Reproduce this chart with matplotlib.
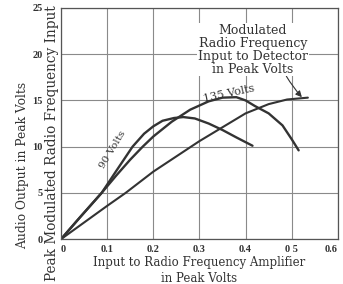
import matplotlib
matplotlib.use("Agg")
import matplotlib.pyplot as plt

# values
x_90 = [0, 0.04, 0.088, 0.12, 0.155, 0.18, 0.2, 0.22, 0.245, 0.265, 0.29, 0.32, 0.35, 0.38, 0.415]
y_90 = [0, 2.3, 5.0, 7.4, 10.0, 11.4, 12.2, 12.8, 13.1, 13.2, 13.05, 12.5, 11.8, 11.0, 10.1]

x_135 = [0, 0.04, 0.088, 0.12, 0.15, 0.177, 0.2, 0.24, 0.28, 0.32, 0.35, 0.38, 0.40, 0.42, 0.45, 0.48, 0.50, 0.515]
y_135 = [0, 2.3, 5.0, 6.9, 8.6, 10.0, 11.1, 12.7, 14.0, 14.9, 15.3, 15.35, 15.0, 14.4, 13.6, 12.3, 10.8, 9.6]

x_det = [0, 0.1, 0.14, 0.2, 0.3, 0.35, 0.4, 0.45, 0.49, 0.535]
y_det = [0, 3.6, 5.0, 7.3, 10.6, 12.1, 13.6, 14.6, 15.1, 15.3]

x_ticks = [0, 0.1, 0.2, 0.3, 0.4, 0.5, 0.6]
x_ticklabels = ["0", "0.1", "0.2", "0.3", "0.4", "0 5", "0.6"]
y_ticks = [0, 5, 10, 15, 20, 25]

ink = "#333333"
plt.rcParams["font.family"] = ["DejaVu Serif"]

fig = plt.figure(figsize=(3.43, 2.84), dpi=100)
ax = fig.add_axes([0.178, 0.158, 0.807, 0.814])

ax.plot(x_90, y_90, color=ink, lw=1.7, solid_capstyle="round")
ax.plot(x_135, y_135, color=ink, lw=1.7, solid_capstyle="round")
ax.plot(x_det, y_det, color=ink, lw=1.5, solid_capstyle="round")

ax.set_xlim(0, 0.6)
ax.set_ylim(0, 25)
ax.set_xticks(x_ticks)
ax.set_xticklabels(x_ticklabels)
ax.set_yticks(y_ticks)
ax.grid(True, color="#8a8a8a", lw=0.8)
ax.tick_params(length=0, labelsize=7.5, colors=ink)
ax.tick_params(axis="y", pad=13)
ax.tick_params(axis="x", pad=4)
for lab in ax.get_xticklabels() + ax.get_yticklabels():
    lab.set_fontfamily("Liberation Serif")
    lab.set_fontweight("bold")
ax.get_xticklabels()[0].set_horizontalalignment("left")
ax.get_xticklabels()[-1].set_horizontalalignment("right")
for s in ax.spines.values():
    s.set_color("#555555")
    s.set_linewidth(0.9)

ax.text(0.113, 9.7, "90 Volts", rotation=59, ha="center", va="center",
        fontsize=7.5, color=ink)
ax.text(0.364, 15.75, "135 Volts", rotation=12, ha="center", va="center",
        fontsize=8, color=ink)
ax.annotate("Modulated\nRadio Frequency\nInput to Detector\nin Peak Volts",
            xy=(0.522, 15.35), xytext=(0.416, 20.5), ha="center", va="center",
            fontsize=9, color=ink, linespacing=1.0,
            bbox=dict(boxstyle="square,pad=0.05", fc="white", ec="none"),
            arrowprops=dict(arrowstyle="-|>", color=ink, lw=0.8,
                            mutation_scale=9, shrinkA=0, shrinkB=0,
                            connectionstyle="arc3,rad=0.05",
                            relpos=(0.8, 0.0)))

fig.text(0.152, 0.495, "Peak Modulated Radio Frequency Input", rotation=90,
         ha="center", va="center", fontsize=9.8, color=ink)
fig.text(0.067, 0.416, "Audio Output in Peak Volts", rotation=90,
         ha="center", va="center", fontsize=8.8, color=ink)
fig.text(0.58, 0.077, "Input to Radio Frequency Amplifier", ha="center",
         va="center", fontsize=8.5, color=ink)
fig.text(0.58, 0.021, "in Peak Volts", ha="center", va="center",
         fontsize=8.5, color=ink)

fig.savefig("out.png", dpi=100)
